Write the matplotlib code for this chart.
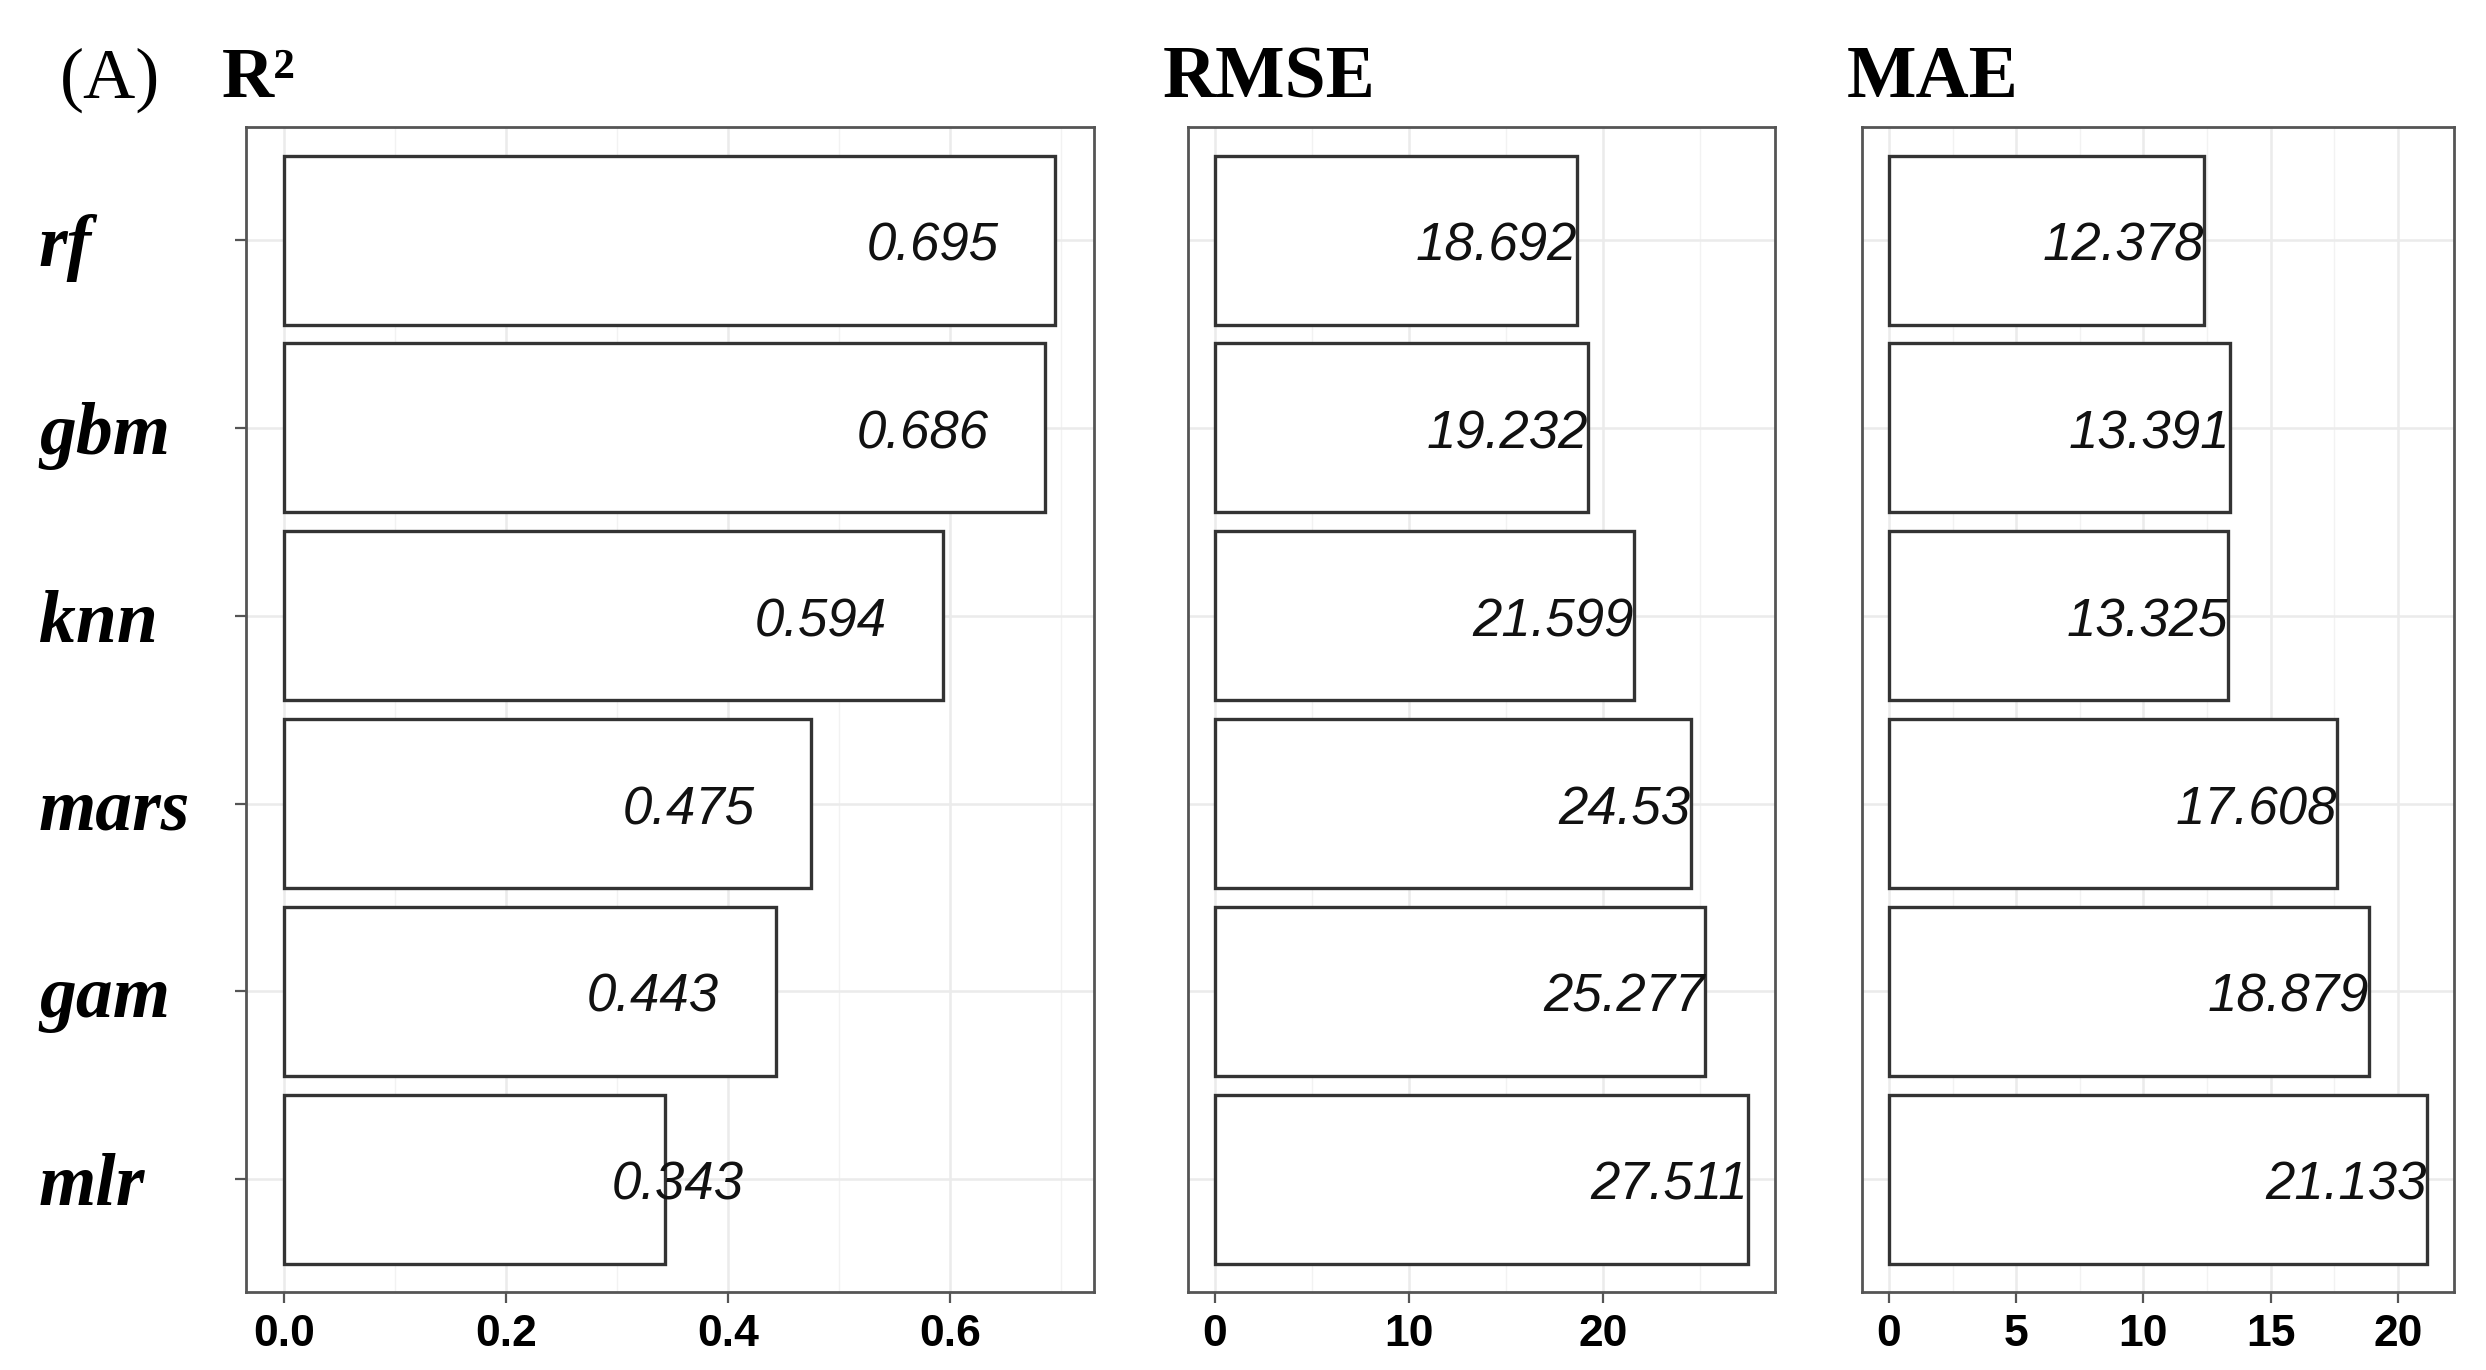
import numpy as np
import matplotlib
matplotlib.use("Agg")
import matplotlib.pyplot as plt
from matplotlib.ticker import MultipleLocator

# Données : modèles et métriques
models = ["rf", "gbm", "knn", "mars", "gam", "mlr"]
r2 = [0.695, 0.686, 0.594, 0.475, 0.443, 0.343]
rmse = [18.692, 19.232, 21.599, 24.53, 25.277, 27.511]
mae = [12.378, 13.391, 13.325, 17.608, 18.879, 21.133]

r2_labels = ["0.695", "0.686", "0.594", "0.475", "0.443", "0.343"]
rmse_labels = ["18.692", "19.232", "21.599", "24.53", "25.277", "27.511"]
mae_labels = ["12.378", "13.391", "13.325", "17.608", "18.879", "21.133"]

r2_ticks = [0.0, 0.2, 0.4, 0.6]
rmse_ticks = [0, 10, 20]
mae_ticks = [0, 5, 10, 15, 20]

# décalage horizontal des étiquettes (R² : décalées vers la gauche, sauf mlr)
r2_nudge = [-0.051, -0.051, -0.051, -0.051, -0.051, 0.071]
rmse_nudge = [0, 0, 0, 0, 0, 0]
mae_nudge = [0, 0, 0, 0, 0, 0]

fig = plt.figure(figsize=(24.86, 13.70), dpi=100)
fig.patch.set_facecolor("white")

panels = [
    ([0.0989, 0.057, 0.341, 0.850], r2, r2_labels, r2_ticks, "{:.1f}", 0.1, r2_nudge),
    ([0.478, 0.057, 0.236, 0.850], rmse, rmse_labels, rmse_ticks, "{:d}", 5, rmse_nudge),
    ([0.749, 0.057, 0.238, 0.850], mae, mae_labels, mae_ticks, "{:d}", 2.5, mae_nudge),
]

y = np.arange(len(models))[::-1]  # rf en haut

for i, (pos, vals, labs, ticks, fmt, minor, nudge) in enumerate(panels):
    ax = fig.add_axes(pos)
    vmax = max(vals)
    ax.set_xlim(-0.05 * vmax, 1.05 * vmax)
    ax.set_ylim(-0.6, len(models) - 0.4)

    # grille façon theme_bw
    ax.set_axisbelow(True)
    ax.xaxis.set_minor_locator(MultipleLocator(minor))
    ax.grid(True, which="major", color="#ebebeb", linewidth=1.8)
    ax.grid(True, which="minor", axis="x", color="#f2f2f2", linewidth=1.0)

    ax.barh(y, vals, height=0.9, color="white", edgecolor="#333333", linewidth=2.4, zorder=2)

    for yy, v, lab, nd in zip(y, vals, labs, nudge):
        ax.text(v + nd, yy - 0.035, lab, ha="right", va="center",
                fontsize=38, style="italic", family="Liberation Sans", color="#111111", zorder=3)

    ax.set_xticks(ticks)
    ax.set_xticklabels([fmt.format(t) for t in ticks], fontsize=32, fontweight="bold",
                       family="Liberation Sans")
    ax.set_yticks(y)
    if i == 0:
        ax.set_yticklabels(models, fontsize=53, fontweight="bold", style="italic",
                           family="Liberation Serif")
        for t in ax.get_yticklabels():
            t.set_ha("left")
        ax.tick_params(axis="y", pad=141)
    else:
        ax.set_yticklabels([])
    ax.tick_params(axis="both", which="major", length=8, width=1.6, color="#555555")
    ax.tick_params(axis="x", pad=8)
    ax.tick_params(axis="y", which="both", left=(i == 0))
    ax.tick_params(axis="x", which="minor", length=0)

    for s in ax.spines.values():
        s.set_color("#555555")
        s.set_linewidth(2.0)

# titres
fig.text(0.024, 0.929, "(A)", fontsize=52, family="Liberation Serif")
fig.text(0.0893, 0.929, "R²", fontsize=52, fontweight="bold", family="Liberation Serif")
fig.text(0.4675, 0.929, "RMSE", fontsize=53, fontweight="bold", family="Liberation Serif")
fig.text(0.743, 0.929, "MAE", fontsize=53, fontweight="bold", family="Liberation Serif")

fig.savefig("out.png", dpi=100, facecolor="white")
